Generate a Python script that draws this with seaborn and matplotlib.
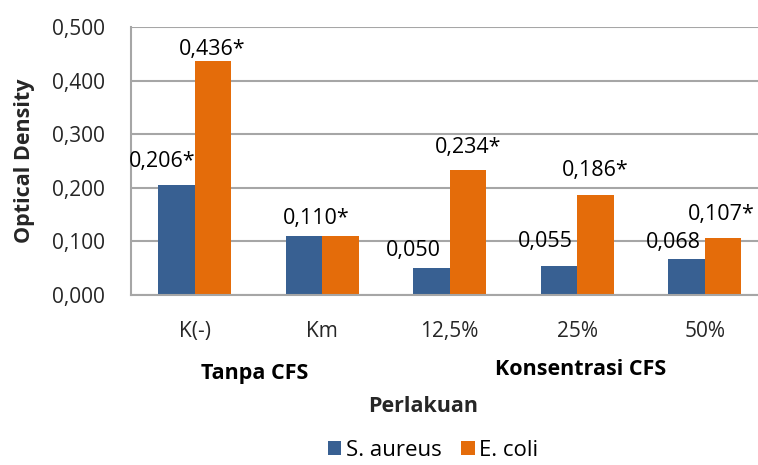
import matplotlib
matplotlib.use("Agg")
import matplotlib.pyplot as plt
import seaborn as sns
import pandas as pd
from matplotlib.ticker import FuncFormatter

# Data
categories = ["K(-)", "Km", "12,5%", "25%", "50%"]
series_names = ["S. aureus", "E. coli"]
s_aureus = [0.206, 0.110, 0.050, 0.055, 0.068]
e_coli = [0.436, 0.110, 0.234, 0.186, 0.107]
# significance marks attached to the value labels ("" = no mark, None = no label)
s_aureus_marks = ["*", None, "", "", ""]
e_coli_marks = ["*", "*", "*", "*", "*"]
y_ticks = [0.0, 0.1, 0.2, 0.3, 0.4, 0.5]
group_labels = ["Tanpa CFS", "Konsentrasi CFS"]

colors = ["#386092", "#E46C0A"]
grid_color = "#A6A6A6"

sns.set_theme(style="white")
plt.rcParams["font.family"] = ["Open Sans", "DejaVu Sans"]
plt.rcParams["text.color"] = "#000000"

df = pd.DataFrame({
    "Perlakuan": categories * 2,
    "Optical Density": s_aureus + e_coli,
    "Bakteri": [series_names[0]] * len(categories) + [series_names[1]] * len(categories),
})

W, H = 758, 465
fig = plt.figure(figsize=(W / 100, H / 100), dpi=100)
ax = fig.add_axes([131 / W, 1 - 295 / H, (W - 131) / W, (295 - 27) / H])

sns.barplot(
    data=df, x="Perlakuan", y="Optical Density", hue="Bakteri",
    order=categories, hue_order=series_names, palette=colors,
    width=0.573, saturation=1, ax=ax, errorbar=None, linewidth=0,
)

ax.set_xlim(-0.5, 4.418)
ax.set_ylim(0, 0.5)
ax.set_yticks(y_ticks)
ax.yaxis.set_major_formatter(FuncFormatter(lambda v, _: f"{v:.3f}".replace(".", ",")))
ax.set_axisbelow(True)
ax.yaxis.grid(True, color=grid_color, lw=1.5)
ax.xaxis.grid(False)
for side in ["top", "right"]:
    ax.spines[side].set_visible(False)
for side in ["left", "bottom"]:
    ax.spines[side].set_color(grid_color)
    ax.spines[side].set_linewidth(1.5)
ax.tick_params(axis="y", length=0, pad=19, labelsize=15)
ax.tick_params(axis="x", length=0, pad=19, labelsize=15)

# value labels (pixel offsets of label centre from bar top)
offsets = [
    [(-14, 23), None, (-18, 18), (-14, 24), (-13, 16)],
    [(-1, 12), (-24, 18), (0, 22), (0, 25), (-2, 23)],
]
marks = [s_aureus_marks, e_coli_marks]
for ci, container in enumerate(ax.containers):
    for bi, bar in enumerate(container):
        mark = marks[ci][bi]
        if mark is None:
            continue
        val = bar.get_height()
        txt = f"{val:.3f}".replace(".", ",") + mark
        ax.annotate(
            txt, xy=(bar.get_x() + bar.get_width() / 2, val),
            xytext=offsets[ci][bi], textcoords="offset pixels",
            ha="center", va="center", fontsize=15.5,
        )

ax.set_ylabel("Optical Density", fontsize=15.5, fontweight="bold")
ax.yaxis.set_label_coords((25 - 131) / (W - 131), 0.5)
ax.yaxis.label.set_va("center")
ax.set_xlabel("Perlakuan", fontsize=15.5, fontweight="bold")
ax.xaxis.set_label_coords((423 - 131) / (W - 131), (295 - 407) / (295 - 27))
ax.xaxis.label.set_va("center")

fig.text(255 / W, 1 - 373 / H, group_labels[0], ha="center", va="center",
         fontsize=15.5, fontweight="bold")
fig.text(581 / W, 1 - 369 / H, group_labels[1], ha="center", va="center",
         fontsize=15.5, fontweight="bold")

sns.move_legend(
    ax, "center", bbox_to_anchor=((433 - 131) / (W - 131), (295 - 450) / (295 - 27)),
    ncol=2, frameon=False, title=None, fontsize=16,
    handlelength=0.6, handleheight=0.6, handletextpad=0.2, columnspacing=0.9,
)

fig.savefig("out.png", dpi=100)
